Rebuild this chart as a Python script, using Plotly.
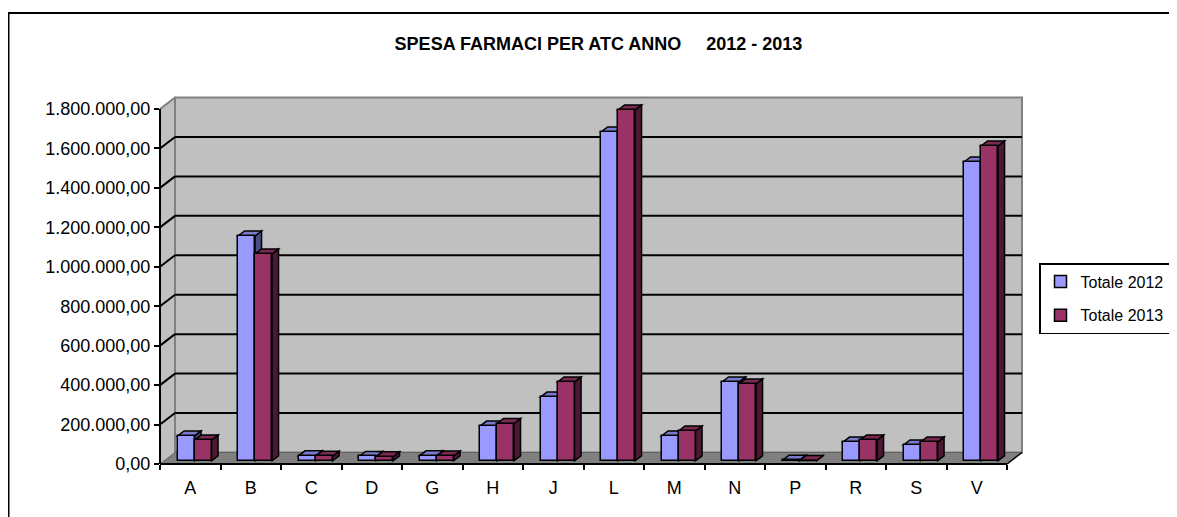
import plotly.graph_objects as go

# ---------------- data ----------------
categories = ["A", "B", "C", "D", "G", "H", "J", "L", "M", "N", "P", "R", "S", "V"]
totale_2012 = [126000, 1140000, 25000, 22000, 25000, 176000, 323000, 1667000,
               126000, 400000, 3000, 95000, 80000, 1515000]
totale_2013 = [105000, 1049000, 23000, 20000, 24000, 189000, 400000, 1779000,
               151000, 390000, 1000, 105000, 95000, 1596000]
y_ticks = [0, 200000, 400000, 600000, 800000, 1000000, 1200000, 1400000, 1600000, 1800000]
series_names = ["Totale 2012", "Totale 2013"]
title_text = "SPESA FARMACI PER ATC ANNO\u00a0\u00a0\u00a0\u00a0 2012 - 2013"

# ---------------- geometry / style ----------------
OFF = 8                        # page body margin
W, H = 1177, 517
ML = 160 - OFF
MT = 97 - OFF
plot_right = 1022 - OFF
plot_bottom = 464 - OFF
MR = W - plot_right
MB = H - plot_bottom
plot_w = plot_right - ML
plot_h = plot_bottom - MT
px_per_x = 60.5               # pixels per category
ymax_front = 1800000
y_per_px = ymax_front / 355.0
X0 = -0.5
X1 = X0 + plot_w / px_per_x
Y1 = plot_h * y_per_px
ncat = len(categories)
XE = ncat - 0.5               # front right edge

BX = 15 / px_per_x            # wall depth offset (x units)
BY = 11.5 * y_per_px          # wall depth offset (y units)
FX = 4.3 / px_per_x           # bar front offset
FY = 3.2 * y_per_px
DX = 6.5 / px_per_x           # bar depth
DY = 5.0 * y_per_px
BW = 17.0 / px_per_x          # bar width

blue = ["#9999FF", "#7A7ACC", "#4C4C80"]
red = ["#993366", "#7A2952", "#4C1933"]
series_colors = [blue, red]

def fx(x):
    return (x - X0) / (X1 - X0)

def fy(y):
    return y / Y1

def fmt(v):
    s = f"{int(v):,}".replace(",", ".")
    return s + ",00"

shapes = []

def ppath(pts, fill, line_color=None, lw=0):
    d = "M " + " L ".join(f"{fx(x):.5f},{fy(y):.5f}" for x, y in pts) + " Z"
    shapes.append(dict(type="path", xref="paper", yref="paper", path=d,
                       fillcolor=fill, line=dict(color=line_color or fill, width=lw),
                       layer="below"))

def pline(x0, y0, x1, y1, color, lw):
    shapes.append(dict(type="line", xref="paper", yref="paper",
                       x0=fx(x0), y0=fy(y0), x1=fx(x1), y1=fy(y1),
                       line=dict(color=color, width=lw), layer="below"))

# outer frame (figure pixels)
shapes.append(dict(type="rect", xref="paper", yref="paper",
                   x0=(0.5 - ML) / plot_w, x1=(1200 - ML) / plot_w,
                   y0=(plot_bottom - 540) / plot_h, y1=(plot_bottom - 5) / plot_h,
                   line=dict(color="black", width=2), fillcolor="rgba(0,0,0,0)", layer="below"))

# left side wall
ppath([(X0, 0), (X0, ymax_front), (X0 + BX, ymax_front + BY), (X0 + BX, BY)], "#C0C0C0")
# back wall
ppath([(X0 + BX, BY), (X0 + BX, ymax_front + BY), (XE + BX, ymax_front + BY), (XE + BX, BY)],
      "#C0C0C0", "#808080", 2)
# floor
ppath([(X0, 0), (XE, 0), (XE + BX, BY), (X0 + BX, BY)], "#808080", "#606060", 1)
# gridlines
for v in y_ticks[1:-1]:
    pline(X0 + BX, v + BY, XE + BX, v + BY, "black", 2)
    pline(X0, v, X0 + BX, v + BY, "black", 2)
pline(X0, ymax_front, X0 + BX, ymax_front + BY, "#808080", 2)
# front axis lines
pline(X0, 0, X0, ymax_front, "black", 2)
pline(X0, 0, XE, 0, "black", 2)
pline(XE, 0, XE + BX, BY, "black", 1.5)

# 3D faces of the bars (data coordinates)
def dpath(pts, fill):
    d = "M " + " L ".join(f"{x:.5f},{y:.1f}" for x, y in pts) + " Z"
    shapes.append(dict(type="path", xref="x", yref="y", path=d, fillcolor=fill,
                       line=dict(color="black", width=1.5), layer="below"))

for s, vals in enumerate([totale_2012, totale_2013]):
    for i, v in enumerate(vals):
        xl = i + FX - BW + s * BW
        xr = xl + BW
        h = FY + v
        top_c, side_c = series_colors[s][1], series_colors[s][2]
        dpath([(xr, FY), (xr, h), (xr + DX, h + DY), (xr + DX, FY + DY)], side_c)
        dpath([(xl, h), (xr, h), (xr + DX, h + DY), (xl + DX, h + DY)], top_c)

fig = go.Figure()
xc = list(range(ncat))
for s, vals in enumerate([totale_2012, totale_2013]):
    fig.add_trace(go.Bar(
        x=[i + FX - BW / 2 + s * BW for i in xc], y=vals, base=FY, width=BW,
        name=series_names[s], legendgroup=series_names[s],
        marker=dict(color=series_colors[s][0], line=dict(color="black", width=1.5)),
    ))

fig.update_layout(
    width=W, height=H,
    margin=dict(l=ML, r=MR, t=MT, b=MB, autoexpand=False),
    paper_bgcolor="white", plot_bgcolor="rgba(0,0,0,0)",
    barmode="overlay", bargap=0,
    font=dict(family="Arial, Liberation Sans, sans-serif", size=18, color="black"),
    title=dict(text="<b>" + title_text + "</b>", xref="container", yref="container",
               x=(598.5 - OFF) / W, y=1 - (44 - OFF) / H, xanchor="center", yanchor="middle",
               font=dict(size=18, family="Arial, Liberation Sans, sans-serif", color="black")),
    showlegend=True,
    legend=dict(x=(1031 - ML) / plot_w, y=(plot_bottom - (263 - OFF)) / plot_h,
                xanchor="left", yanchor="top",
                bordercolor="black", borderwidth=1.5, bgcolor="white",
                font=dict(size=16), tracegroupgap=10, traceorder="grouped"),
    shapes=shapes,
)
fig.update_xaxes(range=[X0, X1], tickvals=xc, ticktext=categories, ticks="", showgrid=False,
                 zeroline=False, showline=False, ticklabelstandoff=11,
                 minor=dict(tickvals=[i - 0.5 for i in range(ncat + 1)], ticks="outside",
                            ticklen=5, tickwidth=2, tickcolor="black"))
fig.update_yaxes(range=[0, Y1], tickvals=y_ticks, ticktext=[fmt(v) for v in y_ticks],
                 ticks="outside", ticklen=5, tickwidth=2, tickcolor="black",
                 showgrid=False, zeroline=False, showline=False)

fig.write_html("out.html")
